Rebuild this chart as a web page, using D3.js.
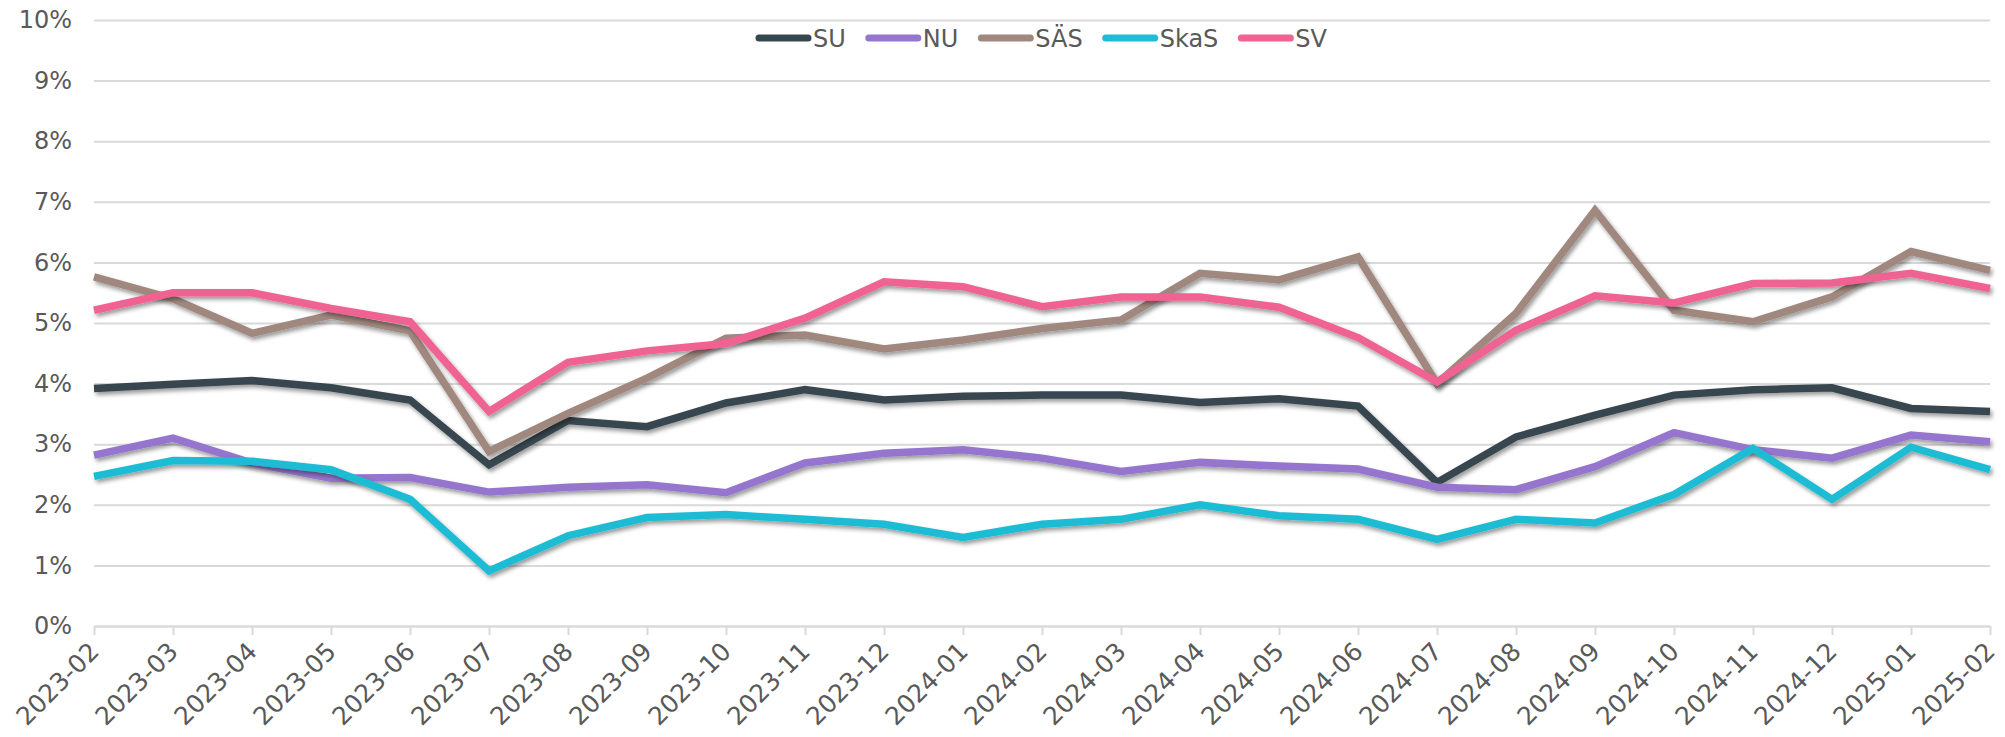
<!DOCTYPE html>
<html>
<head>
<meta charset="utf-8">
<script src="https://cdn.jsdelivr.net/npm/d3@7"></script>
<style>
  body { margin: 0; background: #fff; }
  svg { display: block; }
  svg text { font-family: 'DejaVu Sans', Verdana, sans-serif; }
</style>
</head>
<body>
<svg width="2005" height="737"></svg>
<script>
// months on the x axis
var months = ['2023-02', '2023-03', '2023-04', '2023-05', '2023-06', '2023-07', '2023-08',
  '2023-09', '2023-10', '2023-11', '2023-12', '2024-01', '2024-02', '2024-03', '2024-04',
  '2024-05', '2024-06', '2024-07', '2024-08', '2024-09', '2024-10', '2024-11', '2024-12',
  '2025-01', '2025-02']

// series values, in percent
var su = [3.92, 3.99, 4.05, 3.93, 3.73, 2.66, 3.39, 3.29, 3.68, 3.9, 3.73, 3.79, 3.81, 3.81, 3.69, 3.75, 3.63, 2.37, 3.12, 3.48, 3.81, 3.9, 3.93, 3.59, 3.54]
var nu = [2.82, 3.1, 2.69, 2.44, 2.45, 2.21, 2.29, 2.33, 2.2, 2.69, 2.85, 2.91, 2.77, 2.55, 2.7, 2.64, 2.59, 2.29, 2.25, 2.63, 3.19, 2.91, 2.77, 3.15, 3.04]
var sas = [5.76, 5.4, 4.83, 5.13, 4.87, 2.88, 3.51, 4.09, 4.75, 4.8, 4.57, 4.72, 4.91, 5.05, 5.82, 5.71, 6.09, 4.0, 5.16, 6.86, 5.21, 5.02, 5.43, 6.18, 5.87]
var skas = [2.47, 2.73, 2.72, 2.58, 2.09, 0.91, 1.49, 1.79, 1.84, 1.76, 1.68, 1.46, 1.68, 1.76, 2.0, 1.82, 1.76, 1.43, 1.76, 1.7, 2.17, 2.93, 2.09, 2.95, 2.58]
var sv = [5.21, 5.5, 5.5, 5.24, 5.02, 3.54, 4.35, 4.54, 4.66, 5.08, 5.68, 5.6, 5.27, 5.43, 5.43, 5.26, 4.76, 4.03, 4.88, 5.45, 5.33, 5.65, 5.66, 5.82, 5.57]

var seriesNames = ['SU', 'NU', 'SÄS', 'SkaS', 'SV']
var seriesValues = [su, nu, sas, skas, sv]
var seriesColors = ['#37474f', '#9575cd', '#a1887f', '#1fbcd4', '#f06292']
var yTicks = [0, 1, 2, 3, 4, 5, 6, 7, 8, 9, 10]

var svg = d3.select('svg')
var textColor = '#595959'
var gridColor = '#d9d9d9'

var x = d3.scalePoint().domain(months).range([94, 1990])
var y = d3.scaleLinear().domain([0, 10]).range([626, 20])

// drop shadow under the lines
var defs = svg.append('defs')
defs.append('filter')
  .attr('id', 'shadow')
  .attr('x', '-5%').attr('y', '-5%').attr('width', '110%').attr('height', '120%')
  .append('feDropShadow')
  .attr('dx', 2).attr('dy', 3).attr('stdDeviation', 2)
  .attr('flood-color', '#000').attr('flood-opacity', 0.4)

// gridlines + y labels
var yAxis = d3.axisLeft(y)
  .tickValues(yTicks)
  .tickSize(-(1990 - 94))
  .tickPadding(22)
  .tickFormat((d) => d + '%')

var gy = svg.append('g')
  .attr('transform', 'translate(94,0)')
  .call(yAxis)
  .attr('font-family', null)
gy.select('.domain').remove()
gy.selectAll('line').attr('stroke', gridColor).attr('stroke-width', 2)
gy.selectAll('text')
  .attr('fill', textColor)
  .style('font-size', '24px')
  .attr('x', -22)

// x axis ticks + rotated labels
var xAxis = d3.axisBottom(x).tickSize(9).tickSizeOuter(0)
var gx = svg.append('g')
  .attr('transform', 'translate(0,626)')
  .call(xAxis)
  .attr('font-family', null)
gx.select('.domain').attr('stroke', gridColor).attr('stroke-width', 2)
gx.selectAll('line').attr('stroke', gridColor).attr('stroke-width', 2)
gx.selectAll('text')
  .attr('fill', textColor)
  .style('font-size', '25px')
  .attr('text-anchor', 'end')
  .attr('y', 0)
  .attr('dy', 0)
  .attr('transform', 'translate(6,27) rotate(-45)')

// the lines
var line = d3.line()
  .x((d, i) => x(months[i]))
  .y((d) => y(d))

svg.append('g')
  .selectAll('path')
  .data(seriesValues)
  .enter()
  .append('path')
  .attr('d', line)
  .attr('fill', 'none')
  .attr('stroke', (d, i) => seriesColors[i])
  .attr('stroke-width', 7.5)
  .attr('stroke-linejoin', 'miter')
  .attr('filter', 'url(#shadow)')

// legend
var lx = 756
var legend = svg.append('g')
seriesNames.forEach((name, i) => {
  legend.append('line')
    .attr('x1', lx + 3).attr('x2', lx + 52)
    .attr('y1', 38).attr('y2', 38)
    .attr('stroke', seriesColors[i])
    .attr('stroke-width', 7)
    .attr('stroke-linecap', 'round')
  var t = legend.append('text')
    .attr('x', lx + 57)
    .attr('y', 38)
    .attr('dy', '0.36em')
    .attr('fill', textColor)
    .style('font-size', '24px')
    .text(name)
  lx = lx + 57 + t.node().getComputedTextLength() + 20
})
</script>
</body>
</html>
